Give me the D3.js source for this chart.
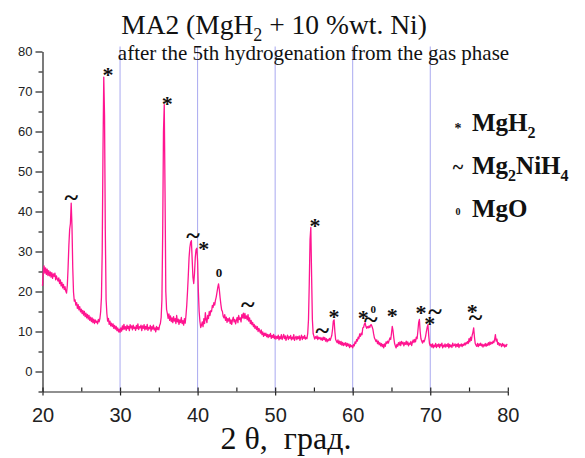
<!DOCTYPE html>
<html>
<head>
<meta charset="utf-8">
<script src="https://cdn.jsdelivr.net/npm/d3@7"></script>
<style>
  body { margin: 0; background: #fff; }
  svg { display: block; }
</style>
</head>
<body>
<svg id="chart" width="585" height="458"></svg>
<script>
// XRD scan: 2θ from 20° in 0.1° steps, one row per degree
const angleStart = 20;
const angleStep = 0.1;
const intensity = [
  21.4, 24.8, 26.4, 24.6, 25.9, 24.3, 25.6, 24.0, 25.2, 23.9,
  24.9, 23.6, 24.7, 23.3, 24.4, 23.8, 24.6, 22.9, 23.9, 23.1,
  22.6, 23.4, 22.0, 22.9, 21.4, 22.3, 20.9, 21.8, 20.5, 21.2,
  20.1, 19.6, 21.5, 26.0, 31.5, 35.5, 37.0, 42.1, 36.5, 26.0,
  19.8, 17.6, 17.9, 16.6, 17.2, 15.8, 16.7, 15.4, 16.2, 14.9,
  15.6, 14.5, 15.3, 14.1, 15.0, 13.7, 14.6, 13.4, 14.3, 13.1,
  14.0, 12.8, 13.6, 12.5, 13.4, 12.2, 13.1, 12.0, 12.9, 12.3,
  12.6, 11.9, 13.0, 12.4, 13.2, 15.0, 18.5, 30.0, 55.0, 73.6,
  64.0, 35.0, 18.0, 14.5, 12.6, 13.3, 11.8, 12.6, 11.4, 12.1,
  11.2, 11.9, 10.8, 11.5, 10.6, 11.3, 10.2, 10.9, 9.9, 10.6,
  9.8, 10.9, 10.1, 11.4, 10.5, 11.8, 10.6, 11.2, 10.3, 11.6,
  10.7, 11.3, 10.2, 11.7, 10.9, 11.4, 10.4, 11.6, 10.8, 11.1,
  10.3, 11.5, 10.7, 11.9, 10.5, 11.2, 10.9, 11.6, 10.2, 11.4,
  10.8, 11.7, 10.4, 11.3, 10.6, 11.8, 10.3, 11.0, 10.7, 11.5,
  10.1, 11.2, 10.6, 11.6, 10.4, 10.9, 9.9, 11.3, 10.5, 11.0,
  10.4, 11.5, 12.0, 13.5, 18.0, 35.0, 60.0, 66.7, 45.0, 20.0,
  15.5, 14.5, 13.3, 14.4, 12.8, 13.9, 12.5, 13.4, 12.2, 13.7,
  12.6, 13.2, 12.0, 14.0, 12.4, 13.1, 11.8, 12.9, 12.2, 13.5,
  12.0, 12.7, 11.6, 13.2, 12.1, 14.0, 16.5, 20.0, 24.0, 28.5,
  31.0, 32.3, 32.7, 28.0, 23.5, 22.0, 24.5, 28.5, 30.5, 30.8,
  27.5, 20.0, 15.0, 12.5, 11.0, 11.6, 12.4, 11.2, 13.2, 12.0,
  14.7, 13.0, 12.2, 14.0, 13.2, 15.0, 14.0, 15.2, 15.0, 16.5,
  16.0, 17.2, 16.6, 17.8, 18.6, 19.8, 21.0, 21.9, 20.5, 18.5,
  16.8, 15.4, 15.0, 13.8, 13.4, 14.2, 12.8, 13.6, 12.3, 13.2,
  12.6, 13.4, 12.0, 12.9, 11.8, 12.9, 13.6, 12.4, 13.0, 11.9,
  12.8, 13.5, 12.2, 14.0, 13.0, 13.4, 12.4, 14.2, 13.4, 14.6,
  13.2, 14.5, 13.3, 13.9, 12.9, 14.2, 12.6, 13.4, 12.0, 12.8,
  11.7, 12.3, 11.2, 11.8, 10.8, 11.4, 10.5, 11.2, 10.0, 10.8,
  10.2, 9.6, 10.4, 9.2, 9.9, 8.8, 9.6, 9.0, 9.6, 8.7,
  9.3, 8.5, 9.2, 8.7, 9.5, 8.3, 9.0, 8.5, 9.3, 8.2,
  8.9, 8.1, 8.8, 8.3, 9.1, 7.9, 8.7, 8.2, 9.2, 8.0,
  8.6, 9.3, 8.2, 8.9, 7.8, 8.5, 9.1, 8.0, 8.7, 8.3,
  9.0, 7.9, 8.6, 8.1, 9.2, 7.8, 8.4, 8.8, 8.0, 8.7,
  8.2, 8.9, 7.8, 8.5, 9.1, 8.0, 8.7, 8.3, 9.0, 8.1,
  8.5, 8.2, 9.5, 13.0, 22.0, 33.0, 36.0, 24.0, 13.0, 9.5,
  8.8, 8.1, 8.7, 8.3, 8.9, 8.0, 8.6, 8.2, 8.5, 7.9,
  8.4, 7.8, 8.6, 8.0, 8.5, 7.6, 8.2, 7.4, 8.0, 7.7,
  8.3, 7.8, 8.4, 9.0, 10.5, 12.6, 12.9, 10.0, 8.0, 7.6,
  7.2, 7.9, 7.0, 7.6, 6.8, 7.5, 6.6, 7.3, 6.5, 7.1,
  6.6, 7.2, 6.3, 7.0, 6.4, 6.9, 6.0, 6.7, 6.2, 6.5,
  5.9, 6.8, 6.4, 7.4, 7.0, 8.0, 7.6, 8.6, 8.2, 9.4,
  8.8, 9.6, 9.2, 10.9, 11.0, 11.8, 12.2, 11.3, 10.8, 11.2,
  10.9, 11.4, 11.0, 11.6, 11.7, 11.2, 10.6, 9.4, 8.4, 8.0,
  7.5, 7.9, 7.0, 7.6, 6.7, 7.2, 6.4, 7.0, 6.2, 6.8,
  5.9, 6.9, 6.3, 7.4, 7.0, 7.6, 7.1, 7.8, 8.4, 8.0,
  9.5, 11.3, 10.2, 8.4, 7.0, 6.4, 5.9, 6.8, 6.3, 7.2,
  6.6, 7.4, 6.5, 7.5, 6.9, 7.3, 6.4, 7.2, 6.8, 7.6,
  6.7, 7.4, 6.4, 7.1, 6.8, 7.5, 6.5, 7.3, 7.9, 7.2,
  8.0, 7.4, 8.6, 8.2, 10.0, 12.2, 13.0, 10.0, 8.2, 7.6,
  7.1, 7.8, 7.4, 8.0, 8.8, 10.0, 11.0, 11.7, 9.0, 7.0,
  6.4, 6.8, 6.1, 6.9, 5.9, 6.6, 6.2, 7.0, 6.0, 6.7,
  6.3, 6.9, 6.0, 6.8, 6.4, 7.1, 5.9, 6.6, 6.2, 6.9,
  6.1, 6.7, 6.3, 7.0, 5.9, 6.8, 6.2, 6.6, 6.0, 7.1,
  6.4, 6.5, 6.9, 6.1, 6.8, 6.3, 7.0, 6.0, 6.7, 6.4,
  6.9, 6.2, 6.8, 6.5, 7.1, 6.6, 7.2, 6.9, 7.5, 7.0,
  8.2, 7.4, 8.6, 7.8, 9.0, 9.8, 10.9, 8.6, 7.0, 6.6,
  6.3, 7.0, 6.2, 6.9, 6.5, 7.1, 6.4, 6.8, 6.1, 6.7,
  6.4, 7.0, 6.3, 6.9, 6.5, 7.2, 6.6, 7.4, 6.8, 7.3,
  7.0, 7.6, 7.2, 8.0, 9.2, 7.6, 8.1, 6.8, 7.2, 6.5,
  7.0, 6.7, 6.2, 7.0, 6.4, 6.8, 6.1, 6.6, 6.3, 6.9
];

// axis ticks
const xTicks = [20, 30, 40, 50, 60, 70, 80];
const xMinorTicks = [20, 25, 30, 35, 40, 45, 50, 55, 60, 65, 70, 75, 80];
const yTicks = [0, 10, 20, 30, 40, 50, 60, 70, 80];
const yMinorTicks = [-5, 5, 15, 25, 35, 45, 55, 65, 75];
const guideAngles = [30, 40, 50, 60, 70];

// phase marks over the reflections: [symbol, 2θ, level]
const peakMarks = [
  ["~", 23.72, 43.0],
  ["*", 28.45, 75.0],
  ["*", 36.10, 67.7],
  ["~", 39.40, 33.5],
  ["*", 40.80, 31.4],
  ["0", 42.76, 24.8],
  ["~", 46.46, 16.2],
  ["*", 55.13, 37.2],
  ["~", 56.07, 9.8],
  ["*", 57.58, 14.5],
  ["*", 61.35, 14.2],
  ["0s", 62.64, 15.6],
  ["~", 62.34, 12.5],
  ["*", 65.09, 14.6],
  ["*", 68.80, 15.4],
  ["~", 70.60, 14.6],
  ["*", 69.95, 12.7],
  ["*", 75.40, 15.6],
  ["~", 75.84, 13.1]
];

// legend: symbol and formula pieces [text, isSubscript]
const legendSymbols = ["*", "~", "0"];
const legendFormulas = [
  [["MgH", false], ["2", true]],
  [["Mg", false], ["2", true], ["NiH", false], ["4", true]],
  [["MgO", false]]
];

const titleParts = [["MA2 (MgH", false], ["2", true], [" + 10 %wt. Ni)", false]];
const subtitleText = "after the 5th hydrogenation from the gas phase";
const xAxisTitle = "2 \u03b8,  \u0433\u0440\u0430\u0434.";

const serif = "'Liberation Serif', 'Times New Roman', serif";
const sans = "'Liberation Sans', Arial, sans-serif";
const axisColor = "#222";

const svg = d3.select("#chart");

const x = d3.scaleLinear().domain([20, 80]).range([42.5, 507.8]);
const y = d3.scaleLinear().domain([-5, 80]).range([391.5, 51.5]);

// violet guide lines at every 10 degrees
svg.append("g")
  .selectAll("line")
  .data(guideAngles)
  .join("line")
  .attr("x1", d => x(d)).attr("x2", d => x(d))
  .attr("y1", y(80) - 5).attr("y2", y(-5))
  .attr("stroke", "#a9a9f0")
  .attr("stroke-width", 1);

// left axis: major and minor ticks point outwards
const yAxisG = svg.append("g").attr("transform", `translate(${x(20)},0)`);
yAxisG.call(d3.axisLeft(y).tickValues(yTicks).tickSize(7).tickSizeOuter(0).tickPadding(3));
yAxisG.append("g").call(d3.axisLeft(y).tickValues(yMinorTicks).tickSize(4).tickFormat(""))
  .select(".domain").remove();
yAxisG.selectAll("path, line").attr("stroke", axisColor).attr("stroke-width", 1.2);
yAxisG.selectAll("text").attr("font-family", sans).attr("font-size", 13).attr("fill", "#222");

// bottom axis: major ticks cross the line, all ticks rise into the plot
const xAxisG = svg.append("g").attr("transform", `translate(0,${y(-5)})`);
xAxisG.call(d3.axisBottom(x).tickValues(xTicks).tickSize(4).tickSizeOuter(0).tickPadding(12.5));
xAxisG.append("g").call(d3.axisTop(x).tickValues(xMinorTicks).tickSize(4).tickFormat(""))
  .select(".domain").remove();
xAxisG.selectAll("path, line").attr("stroke", axisColor).attr("stroke-width", 1.2);
xAxisG.selectAll("text").attr("font-family", sans).attr("font-size", 20).attr("fill", "#222");

// diffraction pattern
const line = d3.line()
  .x((d, i) => x(angleStart + i * angleStep))
  .y(d => y(d));
svg.append("path")
  .datum(intensity)
  .attr("d", line)
  .attr("fill", "none")
  .attr("stroke", "#ff1490")
  .attr("stroke-width", 1.3)
  .attr("stroke-linejoin", "round");

// glyph styling for each mark type: font size, weight, baseline shift (em)
const markStyle = {
  "*": { size: 22, weight: "bold", shift: 0.47, text: "*" },
  "~": { size: 26, weight: "bold", shift: 0.26, text: "~" },
  "0": { size: 13, weight: "bold", shift: 0.34, text: "0" },
  "0s": { size: 11, weight: "bold", shift: 0.34, text: "0" }
};

svg.append("g")
  .selectAll("text")
  .data(peakMarks)
  .join("text")
  .attr("x", d => x(d[1]))
  .attr("y", d => y(d[2]) + markStyle[d[0]].shift * markStyle[d[0]].size)
  .attr("text-anchor", "middle")
  .attr("font-family", serif)
  .attr("font-size", d => markStyle[d[0]].size)
  .attr("font-weight", d => markStyle[d[0]].weight)
  .attr("fill", "#111")
  .text(d => markStyle[d[0]].text);

// helper for text with subscripts
function addPieces(sel, parts, subSize, subDrop) {
  parts.forEach(([t, sub], i) => {
    const ts = sel.append("tspan").text(t);
    if (sub) {
      ts.attr("font-size", subSize).attr("dy", subDrop);
    } else if (i > 0 && parts[i - 1][1]) {
      ts.attr("dy", -subDrop);
    }
  });
}

// title and subtitle
const title = svg.append("text")
  .attr("x", 274).attr("y", 34)
  .attr("text-anchor", "middle")
  .attr("font-family", serif)
  .attr("font-size", 27.5)
  .attr("fill", "#111")
  .style("white-space", "pre");
addPieces(title, titleParts, 18, 7);

svg.append("text")
  .attr("x", 313.5).attr("y", 60)
  .attr("text-anchor", "middle")
  .attr("font-family", serif)
  .attr("font-size", 21)
  .attr("fill", "#111")
  .text(subtitleText);

// x axis title (keeps the double space)
svg.append("text")
  .attr("x", 286).attr("y", 449)
  .attr("text-anchor", "middle")
  .attr("font-family", serif)
  .attr("font-size", 32)
  .attr("fill", "#111")
  .style("white-space", "pre")
  .text(xAxisTitle);

// legend
const legendSymbolStyle = {
  "*": { size: 14, shift: 0.47 },
  "~": { size: 20, shift: 0.26 },
  "0": { size: 10, shift: 0.34 }
};
const legendRows = [131, 174, 217];
legendSymbols.forEach((s, i) => {
  const st = legendSymbolStyle[s];
  svg.append("text")
    .attr("x", 458)
    .attr("y", legendRows[i] - 5 + st.shift * st.size)
    .attr("text-anchor", "middle")
    .attr("font-family", serif)
    .attr("font-weight", "bold")
    .attr("font-size", st.size)
    .attr("fill", "#111")
    .text(s);
  const t = svg.append("text")
    .attr("x", 472).attr("y", legendRows[i])
    .attr("font-family", serif)
    .attr("font-weight", "bold")
    .attr("font-size", 25)
    .attr("fill", "#111");
  addPieces(t, legendFormulas[i], 16, 7);
});
</script>
</body>
</html>
